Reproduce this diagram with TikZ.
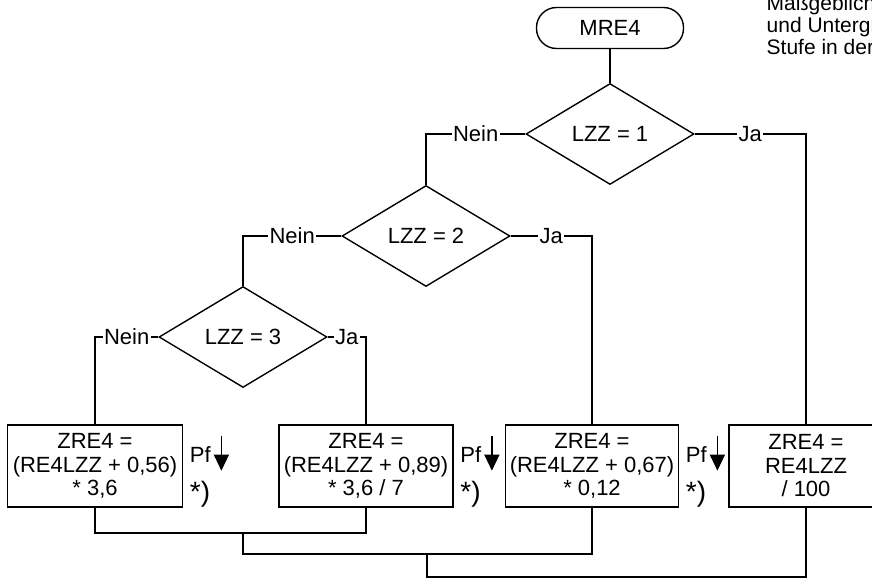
\documentclass[tikz,border=0pt]{standalone}
\usepackage{fontspec}
\setmainfont{Liberation Sans}
\usetikzlibrary{shapes.geometric,arrows.meta}

\tikzset{
  decision/.style={draw, diamond, minimum width=168pt, minimum height=101pt, inner sep=0pt},
  calcbox/.style={draw, rectangle, align=center, minimum height=82pt, inner sep=2pt},
  lbl/.style={fill=white, inner sep=1.5pt},
}

\begin{document}
\begin{tikzpicture}[x=1pt,y=-1pt,line width=1.4pt,font=\fontsize{22}{23.5}\selectfont]
	\useasboundingbox (0,0) rectangle (872,578);
	\clip (0,0) rectangle (872,578);
	
	% Start and note
	\node[draw, rounded corners=20pt, minimum width=147pt, minimum height=41pt] (start) at (610,28) {MRE4};
	\node[anchor=base west, align=left, inner sep=0pt, font=\fontsize{21}{22}\selectfont] (note) at (766,55) {Maßgeblich\\und Untergr\\Stufe in der};
	
	% Decisions
	\node[decision] (lzz1) at (610,134) {LZZ = 1};
	\node[decision] (lzz2) at (426,236) {LZZ = 2};
	\node[decision] (lzz3) at (243,337) {LZZ = 3};
	
	% Calculations
	\node[calcbox, minimum width=175pt] (zre1) at (95,466) {ZRE4 =\\(RE4LZZ + 0,56)\\* 3,6};
	\node[calcbox, minimum width=174pt] (zre2) at (366,466) {ZRE4 =\\(RE4LZZ + 0,89)\\* 3,6 / 7};
	\node[calcbox, minimum width=173pt] (zre3) at (592,466) {ZRE4 =\\(RE4LZZ + 0,67)\\* 0,12};
	\node[calcbox, minimum width=154pt] (zre4) at (806,466) {ZRE4 =\\RE4LZZ\\/ 100};
	
	% Corners of the branches
	\coordinate (n1) at (426,134);
	\coordinate (j1) at (806,134);
	\coordinate (n2) at (243,236);
	\coordinate (j2) at (592,236);
	\coordinate (n3) at (95,337);
	\coordinate (j3) at (366,337);
	\coordinate (join1) at (243,533);
	\coordinate (join2) at (427,554);
	
	% Branches
	\draw (start) -- (lzz1);
	\draw (lzz1.west) -- node[lbl] {Nein} (n1) -- (lzz2.north);
	\draw (lzz1.east) -- node[lbl] {Ja} (j1) -- (zre4.north);
	\draw (lzz2.west) -- node[lbl] {Nein} (n2) -- (lzz3.north);
	\draw (lzz2.east) -- node[lbl] {Ja} (j2) -- (zre3.north);
	\draw (lzz3.west) -- node[lbl] {Nein} (n3) -- (zre1.north);
	\draw (lzz3.east) -- node[lbl] {Ja} (j3) -- (zre2.north);
	
	% Merging lines
	\draw (zre1.south) |- (join1) -| (zre2.south);
	\draw (join1) -- ++(0,21) -| (zre3.south);
	\draw (join2) -- ++(0,23) -| (zre4.south);
	
	% Notes beside the boxes
	\foreach \b in {zre1,zre2,zre3} {
		\node[anchor=base west, inner sep=0pt] (pf\b) at ([xshift=6pt,yshift=-38pt]\b.north east) {Pf};
		\draw[-{Triangle[width=15pt,length=16pt]}] ([xshift=10pt,yshift=10pt]pf\b.north east) -- ++(0,35);
		\node[anchor=base west, inner sep=0pt, font=\fontsize{28}{30}\selectfont] (st\b) at ([xshift=6pt,yshift=-77pt]\b.north east) {*)};
	}
\end{tikzpicture}
\end{document}
